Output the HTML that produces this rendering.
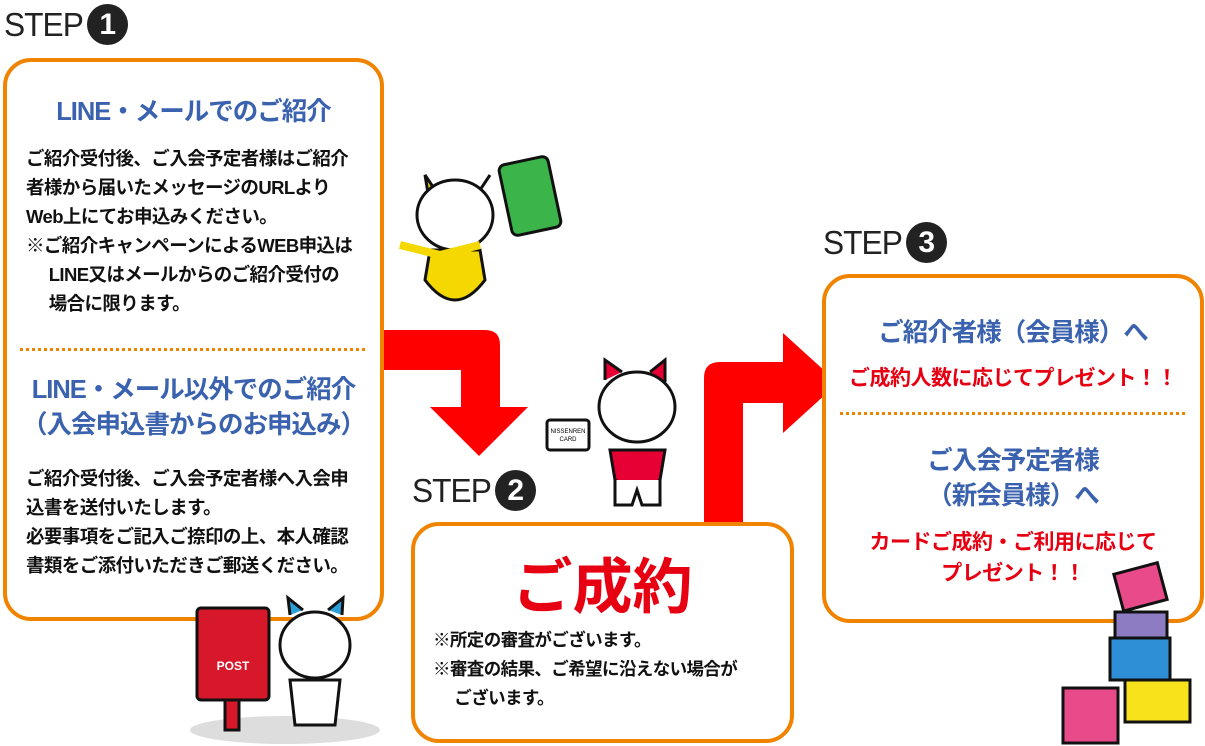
<!DOCTYPE html>
<html><head><meta charset="utf-8"><style>
body{margin:0;width:1205px;height:746px;background:#fff;position:relative;overflow:hidden;font-family:"Liberation Sans","Noto Sans CJK JP",sans-serif;}
.a{position:absolute;}
.box{position:absolute;border:4px solid #f08300;border-radius:28px;background:#fff;box-sizing:border-box;}
.step{position:absolute;font-size:33px;color:#222;letter-spacing:-1px;display:flex;align-items:center;}
.step b{font-weight:normal;display:inline-block;transform:scaleX(0.96);transform-origin:left;margin-right:-1px;}
.step span{display:inline-block;width:41px;height:41px;border-radius:50%;background:#222;color:#fff;font-size:30px;font-weight:bold;text-align:center;line-height:41px;margin-left:2px;letter-spacing:0}
.bt{color:#3a62ae;font-weight:bold;font-size:25.5px;text-align:center;letter-spacing:-1px;}
.tx{font-size:18.5px;font-weight:bold;color:#111;line-height:29px;letter-spacing:-0.6px;white-space:nowrap}
.red{color:#e60012;font-weight:bold;text-align:center;}
.dot{position:absolute;border-top:3px dotted #f08300;}
</style></head><body>
<div class="step" style="left:4px;top:4px"><b>STEP</b><span>1</span></div>
<div class="box" style="left:3px;top:58px;width:381px;height:563px"></div>
<div class="a bt" style="left:3px;top:91px;width:381px">LINE・メールでのご紹介</div>
<div class="a tx" style="left:26px;top:144px;width:350px">ご紹介受付後、ご入会予定者様はご紹介<br>者様から届いたメッセージのURLより<br>Web上にてお申込みください。<br>※ご紹介キャンペーンによるWEB申込は<br>&nbsp;&nbsp;&nbsp;&nbsp;&nbsp;LINE又はメールからのご紹介受付の<br>&nbsp;&nbsp;&nbsp;&nbsp;&nbsp;場合に限ります。</div>
<div class="dot" style="left:20px;top:348px;width:345px"></div>
<div class="a bt" style="left:3px;top:373px;width:381px;line-height:35px">LINE・メール以外でのご紹介<br>（入会申込書からのお申込み）</div>
<div class="a tx" style="left:26px;top:464px;width:350px">ご紹介受付後、ご入会予定者様へ入会申<br>込書を送付いたします。<br>必要事項をご記入ご捺印の上、本人確認<br>書類をご添付いただきご郵送ください。</div>

<svg class="a" style="left:0;top:0" width="1205" height="746">
<path d="M384 330 H485 Q500 330 500 345 V407 H528 L479 456 L430 407 H461 V370 H384 Z" fill="#f00"/>
<path d="M704 523 V378 Q704 362 720 362 H783 V333 L838 383 L783 433 V403 H743 V523 Z" fill="#f00"/>
<g stroke="#111" stroke-width="3">
<rect x="505" y="160" width="50" height="72" rx="6" fill="#3bb54a" transform="rotate(-12 530 196)"/>
<path d="M425 175 L430 205 L470 205 L490 175 L480 190 L435 190 Z" fill="#f5d800"/>
<ellipse cx="455" cy="215" rx="38" ry="35" fill="#fff"/>
<path d="M425 280 Q455 320 485 280 L480 250 L430 250 Z" fill="#f5d800"/>
<path d="M400 245 L440 255 L480 245" fill="none" stroke="#f5d800" stroke-width="8"/>
</g>
<g stroke="#111" stroke-width="3">
<rect x="547" y="420" width="42" height="30" fill="#fff" rx="3"/>
<path d="M605 380 L605 360 L622 372 M650 372 L665 360 L665 382" fill="#e60033"/>
<ellipse cx="637" cy="407" rx="38" ry="35" fill="#fff"/>
<path d="M610 450 L665 450 L660 480 Q637 495 615 480 Z" fill="#e60033"/>
<path d="M615 480 L615 505 L632 505 L637 490 L642 505 L660 505 L660 480" fill="#fff"/>
</g>
<text x="568" y="433" font-size="6" text-anchor="middle" font-family="Liberation Sans">NISSENREN</text>
<text x="568" y="441" font-size="6" text-anchor="middle" font-family="Liberation Sans">CARD</text>
</svg>

<div class="step" style="left:412px;top:470px"><b>STEP</b><span>2</span></div>
<div class="box" style="left:411px;top:522px;width:383px;height:221px"></div>
<div class="a red" style="left:411px;top:550px;width:383px;font-size:60px;line-height:76px">ご成約</div>
<div class="a tx" style="left:433px;top:626px;width:350px;font-size:17.5px">※所定の審査がございます。<br>※審査の結果、ご希望に沿えない場合が<br>&nbsp;&nbsp;&nbsp;&nbsp;&nbsp;ございます。</div>

<div class="step" style="left:823px;top:222px"><b>STEP</b><span>3</span></div>
<div class="box" style="left:822px;top:274px;width:382px;height:349px"></div>
<div class="a bt" style="left:822px;top:312px;width:382px">ご紹介者様（会員様）へ</div>
<div class="a red" style="left:822px;top:362px;width:382px;font-size:21px;letter-spacing:-0.5px">ご成約人数に応じてプレゼント！！</div>
<div class="dot" style="left:840px;top:412px;width:345px"></div>
<div class="a bt" style="left:822px;top:444px;width:382px;line-height:35px">ご入会予定者様<br>（新会員様）へ</div>
<div class="a red" style="left:822px;top:527px;width:382px;font-size:21px;line-height:31px;letter-spacing:-0.5px">カードご成約・ご利用に応じて<br>プレゼント！！</div>

<svg class="a" style="left:0;top:0" width="1205" height="746">
<ellipse cx="285" cy="730" rx="95" ry="14" fill="#ddd"/>
<rect x="197" y="608" width="72" height="92" rx="4" fill="#d7182a" stroke="#111" stroke-width="3"/>
<rect x="225" y="700" width="14" height="30" fill="#d7182a" stroke="#111" stroke-width="3"/>
<text x="233" y="670" font-size="12" fill="#fff" font-weight="bold" text-anchor="middle" font-family="Liberation Sans">POST</text>
<g stroke="#111" stroke-width="3">
<ellipse cx="315" cy="645" rx="35" ry="33" fill="#fff"/>
<path d="M290 615 L288 598 L303 610 M328 610 L343 598 L342 615" fill="#2a9fd8"/>
<path d="M290 680 L340 680 L335 725 L295 725 Z" fill="#fff"/>
</g>
<g stroke="#111" stroke-width="3">
<rect x="1118" y="568" width="45" height="38" fill="#e94a8a" transform="rotate(-15 1140 587)"/>
<rect x="1115" y="612" width="52" height="26" fill="#8e7cc3"/>
<rect x="1110" y="638" width="60" height="42" fill="#2f8fd6"/>
<rect x="1125" y="680" width="65" height="42" fill="#f7e21b"/>
<rect x="1063" y="688" width="55" height="55" fill="#e94a8a"/>
</g>
</svg>
</body></html>
